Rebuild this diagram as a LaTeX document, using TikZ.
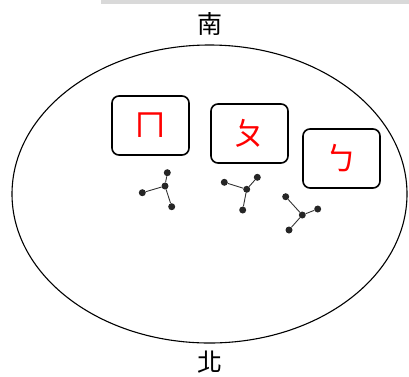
\documentclass[tikz,border=0pt]{standalone}
\usepackage{fontspec}
\newfontfamily\cjk{Noto Sans CJK TC}
\usetikzlibrary{positioning}

\begin{document}
\begin{tikzpicture}[x=1pt,y=-1pt,
    card/.style={draw, line width=1.6pt, rounded corners=7pt,
      minimum width=77pt, minimum height=59pt, inner sep=0pt,
      text=red, font=\cjk\fontsize{32}{32}\selectfont},
    atom/.style={circle, fill=black!85, inner sep=0pt, minimum size=7pt},
    bond/.style={line width=0.9pt, black!80},
    compass/.style={font=\cjk\fontsize{25}{25}\selectfont}]
  \useasboundingbox (0,0) rectangle (409,376);

  % grey strip along the top edge
  \fill[black!15] (101,0) rectangle (409,4);

  % the field
  \draw[line width=1.1pt] (209.5,194) ellipse [x radius=197.5, y radius=149];

  % directions
  \node[compass] (south) at (210,24) {南};
  \node[compass] (north) at (210,362) {北};

  % letter cards
  \node[card] (cardm) at (150.5,125.5) {ㄇ};
  \node[card] (cardp) at (249.5,133.5) {ㄆ};
  \node[card] (cardb) at (341.5,158.5) {ㄅ};

  % small molecules: centre atom and three neighbours
  \foreach \m/\cx/\cy/\ax/\ay/\bx/\by/\dx/\dy in {
      1/165/186/167.3/172.7/142.3/192.7/171.7/206.7,
      2/246.7/189.3/224.3/182.3/257.3/177.3/242.7/210,
      3/302.3/215/285.7/196.7/317.7/209/289/230} {
    \node[atom] (c\m) at (\cx,\cy) {};
    \node[atom] (a\m) at (\ax,\ay) {};
    \node[atom] (b\m) at (\bx,\by) {};
    \node[atom] (d\m) at (\dx,\dy) {};
    \draw[bond] (c\m) -- (a\m);
    \draw[bond] (c\m) -- (b\m);
    \draw[bond] (c\m) -- (d\m);
  }
\end{tikzpicture}
\end{document}
